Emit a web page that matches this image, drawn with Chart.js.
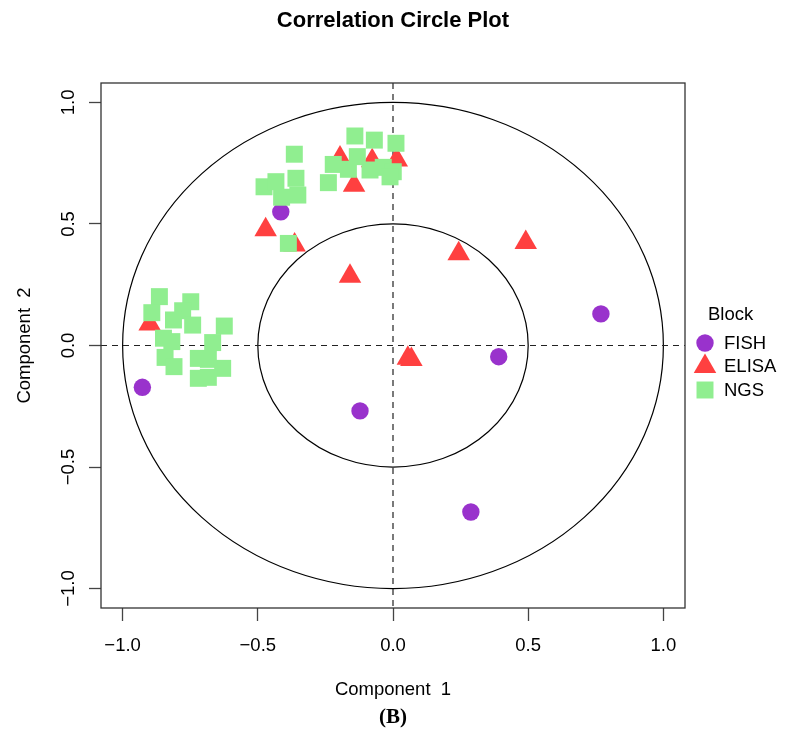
<!DOCTYPE html>
<html>
<head>
<meta charset="utf-8">
<title>Correlation Circle Plot</title>
<script src="https://cdn.jsdelivr.net/npm/chart.js@4.4.1/dist/chart.umd.min.js"></script>
<style>
  body { margin: 0; background: #fff; }
  #wrap { width: 790px; height: 748px; }
</style>
</head>
<body>
<div id="wrap"><canvas id="corrCircle" width="790" height="748"></canvas></div>
<script>
// Correlations of each block variable with component 1 (x) and component 2 (y)
const fishX = [-0.415, 0.769, 0.391, 0.288, -0.122, -0.927];
const fishY = [0.550, 0.130, -0.046, -0.685, -0.269, -0.172];

const elisaX = [-0.196, -0.077, 0.014, -0.144, -0.471, -0.364, -0.159, 0.243, 0.491, 0.055, 0.068, -0.900];
const elisaY = [0.771, 0.760, 0.763, 0.659, 0.476, 0.413, 0.285, 0.378, 0.424, -0.052, -0.058, 0.088];

const ngsX = [-0.365, -0.141, -0.069, 0.011, -0.132, -0.221, -0.165, -0.085, -0.036, 0.001, -0.011, -0.239,
              -0.477, -0.433, -0.359, -0.352, -0.412, -0.387,
              -0.864, -0.892, -0.748, -0.778, -0.812, -0.741, -0.624, -0.849, -0.818, -0.667,
              -0.843, -0.810, -0.720, -0.683, -0.630, -0.720, -0.683];
const ngsY = [0.787, 0.862, 0.845, 0.832, 0.777, 0.745, 0.725, 0.722, 0.733, 0.715, 0.694, 0.670,
              0.653, 0.674, 0.688, 0.619, 0.610, 0.420,
              0.201, 0.135, 0.180, 0.143, 0.105, 0.084, 0.080, 0.030, 0.016, 0.012,
              -0.049, -0.087, -0.053, -0.057, -0.094, -0.135, -0.131];

const blockNames = ['FISH', 'ELISA', 'NGS'];

const xTicks = [-1, -0.5, 0, 0.5, 1];
const xTickLabels = ['\u22121.0', '\u22120.5', '0.0', '0.5', '1.0'];
const yTicks = [-1, -0.5, 0, 0.5, 1];
const yTickLabels = ['\u22121.0', '\u22120.5', '0.0', '0.5', '1.0'];

const circleRadii = [1, 0.5];

document.addEventListener("DOMContentLoaded", function() {

    const FONT = '"Liberation Sans", Arial, Helvetica, sans-serif';
    Chart.defaults.font.family = FONT;
    Chart.defaults.color = '#000';

    // marker look per block (R plotVar defaults)
    const blockColors = ['#9932CC', '#FF4040', '#90EE90'];
    const blockShapes = ['circle', 'triangle', 'rect'];
    const blockRadius = [8.7, 13, 12];

    const toPoints = (xs, ys) => xs.map((x, i) => ({ x: x, y: ys[i] }));
    const blockData = [toPoints(fishX, fishY), toPoints(elisaX, elisaY), toPoints(ngsX, ngsY)];

    // NGS drawn last (on top), like the R output
    const drawOrder = [2, 1, 0];

    const datasets = blockNames.map((name, i) => ({
        label: name,
        data: blockData[i],
        pointStyle: blockShapes[i],
        pointRadius: blockRadius[i],
        pointBackgroundColor: blockColors[i],
        pointBorderWidth: 0,
        order: drawOrder[i]
    }));

    // 1. circles + dashed axes under the points
    const decorations = {
        id: 'decorations',
        beforeDatasetsDraw(chart) {
            const { ctx, chartArea: a, scales: { x, y } } = chart;
            const x0 = x.getPixelForValue(0);
            const y0 = y.getPixelForValue(0);
            ctx.save();
            ctx.strokeStyle = '#000';
            ctx.lineWidth = 1.2;
            circleRadii.forEach(r => {
                ctx.beginPath();
                ctx.ellipse(x0, y0, x.getPixelForValue(r) - x0, y0 - y.getPixelForValue(r), 0, 0, Math.PI * 2);
                ctx.stroke();
            });
            ctx.setLineDash([6, 5]);
            ctx.strokeStyle = '#222';
            ctx.beginPath();
            ctx.moveTo(a.left, y0); ctx.lineTo(a.right, y0);
            ctx.moveTo(x0, a.top); ctx.lineTo(x0, a.bottom);
            ctx.stroke();
            ctx.restore();
        },
        afterDraw(chart) {
            const { ctx, chartArea: a, scales: { y } } = chart;
            ctx.save();

            // plot box
            ctx.strokeStyle = '#333';
            ctx.lineWidth = 1.3;
            ctx.strokeRect(a.left, a.top, a.right - a.left, a.bottom - a.top);

            // y tick labels, rotated like R (las = 0)
            ctx.fillStyle = '#000';
            ctx.font = '18.5px ' + FONT;
            ctx.textAlign = 'center';
            ctx.textBaseline = 'alphabetic';
            yTicks.forEach((v, i) => {
                ctx.save();
                ctx.translate(a.left - 27.5, y.getPixelForValue(v));
                ctx.rotate(-Math.PI / 2);
                ctx.fillText(yTickLabels[i], 0, 0);
                ctx.restore();
            });

            // legend
            ctx.textAlign = 'left';
            ctx.fillText('Block', a.right + 23, 320);
            const mx = a.right + 20;
            blockNames.forEach((name, i) => {
                const cy = 343 + i * 23.5;
                ctx.fillStyle = blockColors[i];
                ctx.beginPath();
                if (blockShapes[i] === 'circle') {
                    ctx.arc(mx, cy, blockRadius[i], 0, Math.PI * 2);
                } else if (blockShapes[i] === 'triangle') {
                    const r = blockRadius[i];
                    const w = r * Math.sin(Math.PI / 3);
                    ctx.moveTo(mx, cy - r);
                    ctx.lineTo(mx + w, cy + r / 2);
                    ctx.lineTo(mx - w, cy + r / 2);
                    ctx.closePath();
                } else {
                    const s = blockRadius[i] * Math.SQRT1_2;
                    ctx.rect(mx - s, cy - s, 2 * s, 2 * s);
                }
                ctx.fill();
                ctx.fillStyle = '#000';
                ctx.fillText(name, a.right + 39, cy + 5.7);
            });

            // panel caption
            ctx.textAlign = 'center';
            ctx.font = 'bold 21px "Liberation Serif", "Times New Roman", serif';
            ctx.fillText('(B)', (a.left + a.right) / 2, 723);

            ctx.restore();
        }
    };

    const ctx = document.getElementById('corrCircle').getContext('2d');
    new Chart(ctx, {
        type: 'scatter',
        data: { datasets: datasets },
        options: {
            responsive: false,
            animation: false,
            events: [],
            layout: { padding: { left: 0, right: 105, top: 0, bottom: 0 } },
            plugins: {
                legend: { display: false },
                tooltip: { enabled: false },
                title: {
                    display: true,
                    fullSize: false,
                    text: 'Correlation Circle Plot',
                    color: '#000',
                    font: { size: 22, weight: 'bold' },
                    padding: { top: 7.5, bottom: 49.1 }
                }
            },
            scales: {
                x: {
                    type: 'linear',
                    position: 'bottom',
                    min: -1.08,
                    max: 1.08,
                    afterBuildTicks: axis => { axis.ticks = xTicks.map(v => ({ value: v })); },
                    afterFit: axis => { axis.height = 140; axis.paddingLeft = 0; axis.paddingRight = 0; },
                    ticks: {
                        padding: 14,
                        maxRotation: 0,
                        font: { size: 18.5 },
                        callback: (v) => xTickLabels[xTicks.indexOf(v)]
                    },
                    grid: { drawOnChartArea: false, drawTicks: true, tickLength: 13, tickColor: '#444', tickWidth: 1.3 },
                    border: { display: false },
                    title: { display: true, text: 'Component  1', font: { size: 18.5 }, padding: { top: 0, bottom: 46.8 } }
                },
                y: {
                    type: 'linear',
                    position: 'left',
                    min: -1.08,
                    max: 1.08,
                    afterBuildTicks: axis => { axis.ticks = yTicks.map(v => ({ value: v })); },
                    afterFit: axis => { axis.width = 101; axis.paddingTop = 0; axis.paddingBottom = 0; },
                    ticks: { display: false },
                    grid: { drawOnChartArea: false, drawTicks: true, tickLength: 12, tickColor: '#444', tickWidth: 1.3 },
                    border: { display: false },
                    title: { display: true, text: 'Component  2', font: { size: 18.5 }, padding: { top: 13.9, bottom: 0 } }
                }
            }
        },
        plugins: [decorations]
    });
});
</script>
</body>
</html>
